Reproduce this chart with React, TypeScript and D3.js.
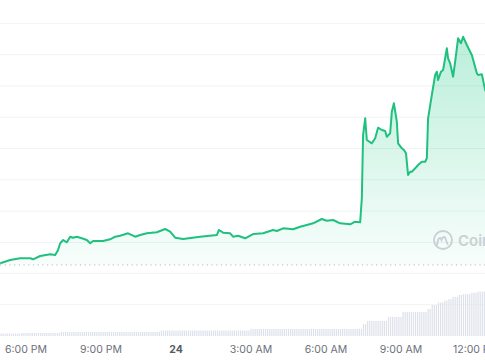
import React from "react";
import * as d3 from "d3";

// price series: minutes relative to 00:00 on the 24th, price (arbitrary units)
const priceTimes = [-422, -398, -374, -350, -343, -326, -302, -290, -283, -278, -271, -262, -254, -247, -238, -226, -214, -206, -199, -175, -158, -146, -134, -115, -98, -86, -70, -46, -26, -14, -2, 17, 58, 98, 103, 113, 130, 137, 149, 166, 185, 209, 233, 242, 257, 281, 298, 314, 329, 350, 362, 377, 394, 418, 430, 442, 446, 449, 454, 458, 470, 478, 485, 494, 502, 506, 514, 518, 523, 530, 533, 542, 547, 552, 557, 562, 566, 574, 581, 590, 598, 602, 605, 614, 622, 626, 629, 636, 641, 650, 653, 658, 665, 670, 677, 684, 689, 698, 706, 710, 722, 725, 734, 742, 754];
const priceValues = [3.32, 4.38, 4.92, 4.92, 4.6, 5.65, 6.2, 5.97, 7.57, 9.71, 10.77, 10.03, 11.82, 11.5, 11.82, 11.31, 10.77, 9.71, 10.45, 10.45, 10.99, 11.82, 12.14, 12.91, 11.82, 12.36, 12.91, 13.23, 14.28, 13.42, 11.5, 11.09, 11.82, 12.36, 13.96, 13.1, 12.91, 11.82, 12.14, 11.31, 12.68, 12.91, 13.96, 13.64, 14.5, 14.19, 15.02, 15.56, 16.1, 17.48, 16.93, 17.16, 16.1, 15.78, 16.61, 16.42, 24.19, 44.31, 49.65, 42.72, 41.66, 43.26, 46.65, 45.91, 45.59, 43.77, 44.86, 51.76, 54.44, 48.56, 41.66, 40.06, 39.52, 38.47, 31.53, 32.59, 32.59, 33.67, 34.73, 35.78, 35.78, 36.87, 49.65, 57.09, 63.48, 64.54, 61.88, 64.54, 65.08, 72.01, 68.82, 67.22, 62.94, 67.73, 75.21, 73.61, 75.72, 73.07, 70.93, 69.87, 64.03, 63.48, 63.71, 58.69, 55.5];

const openPrice = 2.78;
const priceTicks = [10, 20, 30, 40, 50, 60, 70, 80];
const volumeTicks = [100, 200];

// volume levels: [start minute, end minute, volume]
const volumeStart = [-425, -374, -278, -38, 178, 446, 458, 509, 545, 602, 612, 626, 641, 653, 665, 677, 689, 706, 725];
const volumeEnd = [-374, -278, -38, 178, 446, 458, 509, 545, 602, 612, 626, 641, 653, 665, 677, 689, 706, 725, 760];
const volumeLevel = [8, 9.6, 12.8, 17.6, 22.4, 38, 48, 61, 77, 86, 99, 107, 113, 118, 125, 131, 134, 138, 142];

const xTickMinutes = [-360, -180, 0, 180, 360, 540, 720];
const xTickLabels = ["6:00 PM", "9:00 PM", "24", "3:00 AM", "6:00 AM", "9:00 AM", "12:00 PM"];

const W = 485;
const H = 360;
const base = new Date(2024, 0, 24, 0, 0, 0).getTime();
const toDate = (m: number) => new Date(base + m * 60000);

export default function App() {
  const x = d3
    .scaleTime()
    .domain([toDate(-422.4), toDate(741.6)])
    .range([0, 485]);
  const y = d3.scaleLinear().domain([0, 80]).range([273.7, 23.3]);
  const yv = d3.scaleLinear().domain([0, 200]).range([336, 273.4]);

  const pts = priceTimes.map((t, i) => ({ d: toDate(t), v: priceValues[i] }));
  const line = d3
    .line<{ d: Date; v: number }>()
    .x((p) => x(p.d))
    .y((p) => y(p.v));
  const area = d3
    .area<{ d: Date; v: number }>()
    .x((p) => x(p.d))
    .y0(y(openPrice))
    .y1((p) => y(p.v));

  const bars: { d: Date; v: number }[] = [];
  volumeStart.forEach((s, i) => {
    for (let m = Math.ceil(s / 5) * 5; m < volumeEnd[i]; m += 5) {
      bars.push({ d: toDate(m), v: volumeLevel[i] });
    }
  });

  return (
    <svg
      width={W}
      height={H}
      style={{ position: "absolute", left: 0, top: 0, background: "#fff" }}
      fontFamily="Inter, 'Noto Sans', sans-serif"
    >
      <defs>
        <linearGradient id="fillg" gradientUnits="userSpaceOnUse" x1="0" y1="30" x2="0" y2={y(openPrice)}>
          <stop offset="0" stopColor="#16c784" stopOpacity="0.3" />
          <stop offset="1" stopColor="#16c784" stopOpacity="0.03" />
        </linearGradient>
      </defs>
      <rect x={0} y={0} width={W} height={H} fill="#fff" />
      {priceTicks.map((t) => (
        <line key={"g" + t} x1={0} x2={W} y1={y(t)} y2={y(t)} stroke="#f1f2f4" strokeWidth={1} />
      ))}
      {volumeTicks.map((t) => (
        <line key={"v" + t} x1={0} x2={W} y1={yv(t)} y2={yv(t)} stroke="#f1f2f4" strokeWidth={1} />
      ))}
      {bars.map((b, i) => (
        <rect
          key={"b" + i}
          x={x(b.d) - 0.6}
          y={yv(b.v)}
          width={1.2}
          height={yv(0) - yv(b.v)}
          fill="#dde1ea"
        />
      ))}
      <path d={area(pts) || ""} fill="url(#fillg)" />
      <line
        x1={0}
        x2={W}
        y1={y(openPrice)}
        y2={y(openPrice)}
        stroke="#b4b8c0"
        strokeWidth={1}
        strokeDasharray="1.2,3.5"
      />
      {/* watermark */}
      <g opacity={0.9}>
        <circle cx={443} cy={240} r={9} fill="none" stroke="#c8cbd1" strokeWidth={1.8} />
        <path d="M437,245 C438,238 440,236 441.5,240 C443,236 445,236 446,240 L447.5,244" fill="none" stroke="#c8cbd1" strokeWidth={1.8} strokeLinecap="round" />
        <text x={458} y={246} fontSize={15} fontWeight={600} fill="#c8cbd1">
          CoinGecko
        </text>
      </g>
      <path d={line(pts) || ""} fill="none" stroke="#20c07f" strokeWidth={2} strokeLinejoin="round" />
      {xTickMinutes.map((m, i) => (
        <text
          key={"x" + m}
          x={x(toDate(m))}
          y={353}
          textAnchor="middle"
          fontSize={10.5}
          fontWeight={m === 0 ? 700 : 400}
          fill={m === 0 ? "#555a63" : "#6b7079"}
        >
          {xTickLabels[i]}
        </text>
      ))}
    </svg>
  );
}
